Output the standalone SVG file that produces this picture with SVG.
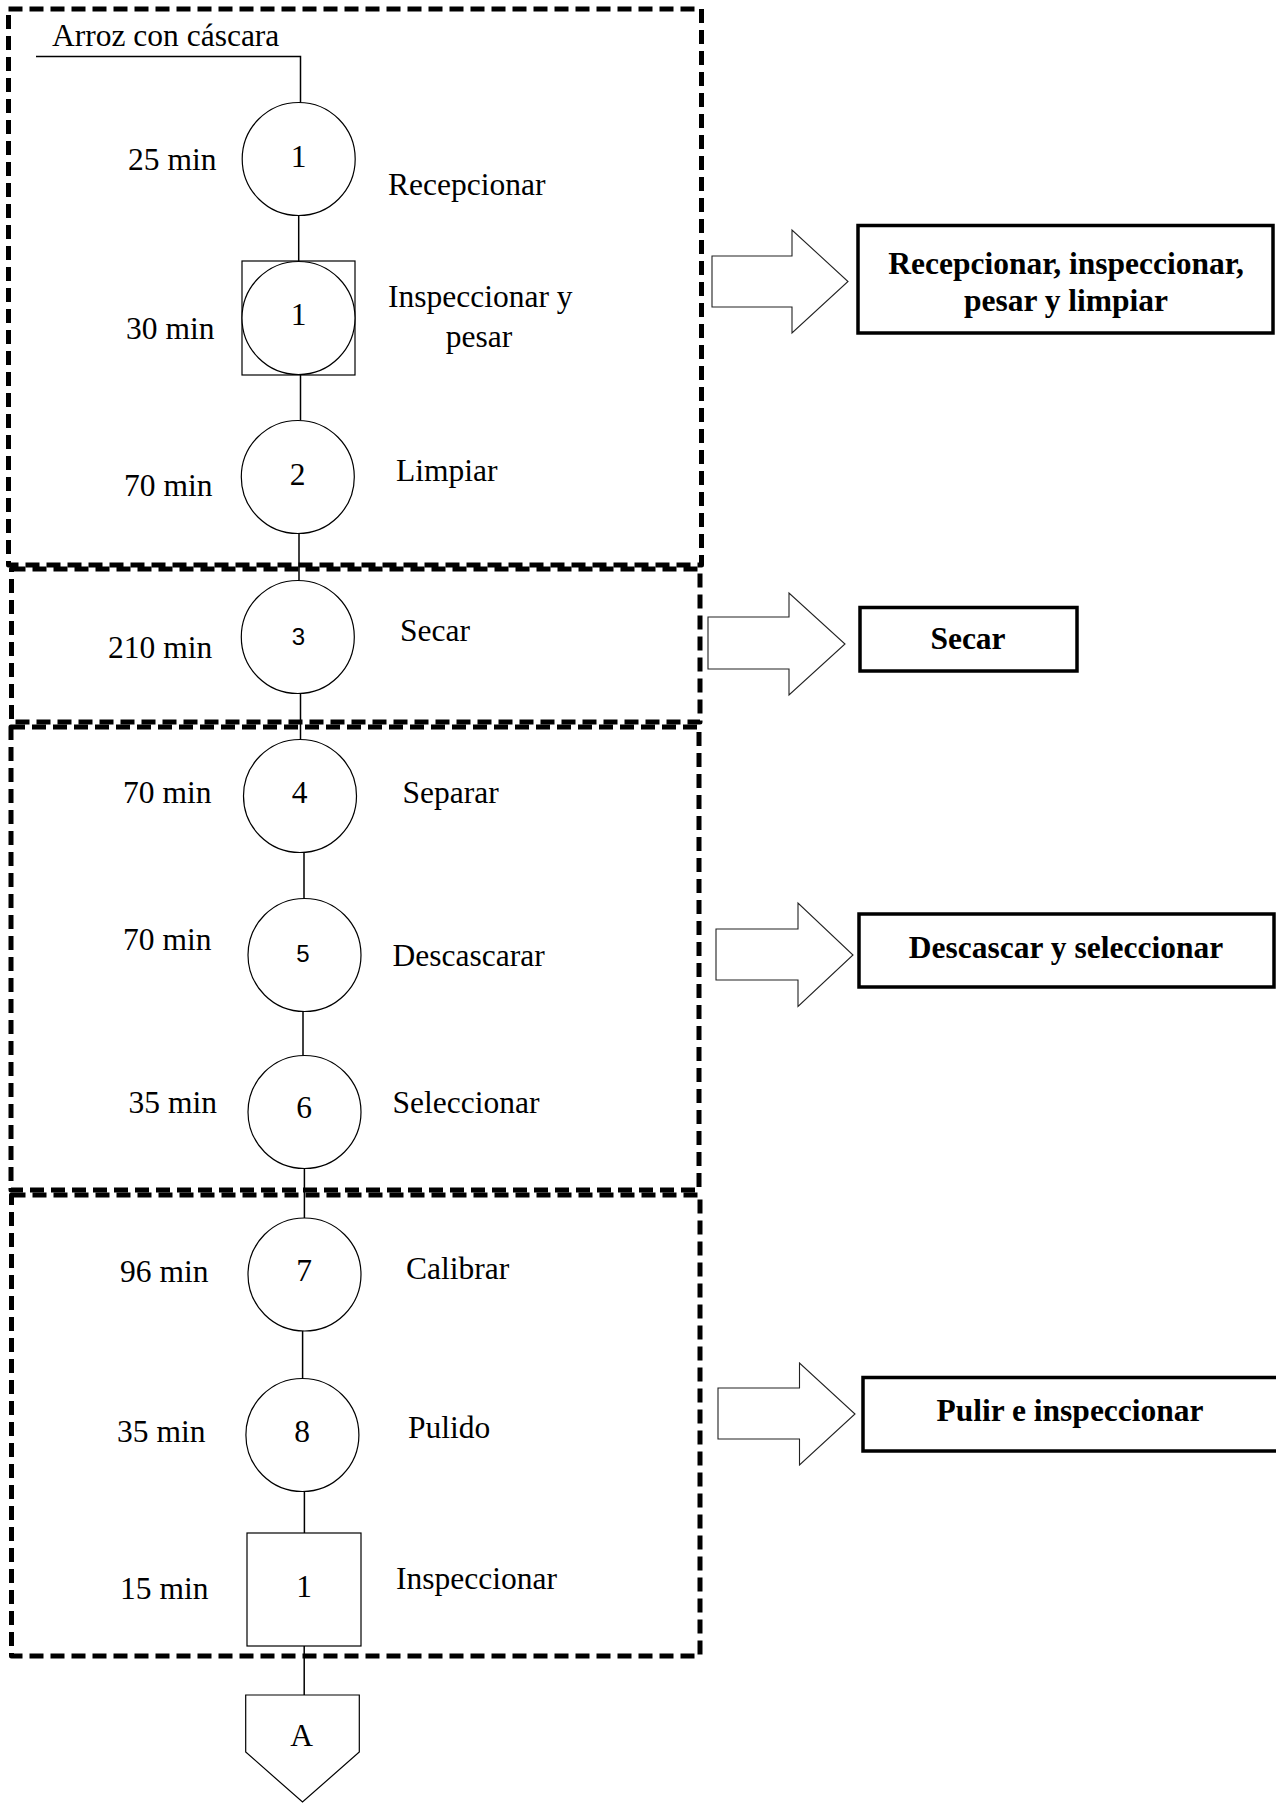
<svg xmlns="http://www.w3.org/2000/svg" width="1276" height="1803" viewBox="0 0 1276 1803">
  <style>
    .bg { fill: #ffffff; }
    .stage { fill: none; stroke: #000; stroke-width: 5; stroke-dasharray: 14 7; stroke-linejoin: round; }
    .sym { fill: #fff; stroke: #000; stroke-width: 1.2; }
    .flow { fill: none; stroke: #000; stroke-width: 1.5; }
    .blk { fill: #fff; stroke: #222; stroke-width: 1.1; }
    .title { fill: #fff; stroke: #000; stroke-width: 3.5; }
    .t { font-family: "Liberation Serif", "Times New Roman", serif; font-size: 31.5px; fill: #000; }
    .n { font-family: "Liberation Serif", "Times New Roman", serif; font-size: 31.5px; fill: #000; text-anchor: middle; }
    .ns { font-family: "Liberation Sans", Arial, sans-serif; font-size: 24px; fill: #000; text-anchor: middle; }
    .b { font-family: "Liberation Serif", "Times New Roman", serif; font-size: 31.5px; font-weight: bold; fill: #000; text-anchor: middle; }
  </style>

  <rect class="bg" x="0" y="0" width="1276" height="1803"/>

  <!-- stage frames -->
  <g id="stages">
    <rect class="stage" x="8.5" y="9" width="693" height="556"/>
    <rect class="stage" x="11.5" y="569" width="688.5" height="153"/>
    <rect class="stage" x="11" y="727" width="688" height="463"/>
    <rect class="stage" x="11.5" y="1195" width="688.5" height="461"/>
  </g>

  <!-- connectors -->
  <g id="connectors">
    <polyline class="flow" points="36,56.5 300.5,56.5 300.5,102.5"/>
    <line class="flow" x1="298.7" y1="215.5" x2="298.7" y2="261"/>
    <line class="flow" x1="300.5" y1="375" x2="300.5" y2="420.5"/>
    <line class="flow" x1="299" y1="533.5" x2="299" y2="580.5"/>
    <line class="flow" x1="300.5" y1="693.5" x2="300.5" y2="739.5"/>
    <line class="flow" x1="304" y1="852.5" x2="304" y2="898.5"/>
    <line class="flow" x1="303" y1="1011.5" x2="303" y2="1055.5"/>
    <line class="flow" x1="304.4" y1="1168.5" x2="304.4" y2="1218"/>
    <line class="flow" x1="302.6" y1="1331" x2="302.6" y2="1378.5"/>
    <line class="flow" x1="304.4" y1="1491.5" x2="304.4" y2="1533"/>
    <line class="flow" x1="304.2" y1="1646" x2="304.2" y2="1695"/>
  </g>

  <!-- process symbols -->
  <g id="op1"><circle class="sym" cx="298.7" cy="159" r="56.5"/><text class="n" x="298.5" y="167">1</text></g>
  <g id="insp-op1">
    <rect class="sym" x="242" y="261" width="113" height="114"/>
    <circle class="sym" cx="298.5" cy="318" r="56.5"/>
    <text class="n" x="298.5" y="325">1</text>
  </g>
  <g id="op2"><circle class="sym" cx="297.8" cy="477" r="56.5"/><text class="n" x="297.5" y="485">2</text></g>
  <g id="op3"><circle class="sym" cx="297.8" cy="637" r="56.5"/><text class="ns" x="298.5" y="645">3</text></g>
  <g id="op4"><circle class="sym" cx="300" cy="796" r="56.5"/><text class="n" x="299.5" y="803">4</text></g>
  <g id="op5"><circle class="sym" cx="304.5" cy="955" r="56.5"/><text class="ns" x="303" y="962">5</text></g>
  <g id="op6"><circle class="sym" cx="304.5" cy="1112" r="56.5"/><text class="n" x="304" y="1118">6</text></g>
  <g id="op7"><circle class="sym" cx="304.5" cy="1274.5" r="56.5"/><text class="n" x="304" y="1281">7</text></g>
  <g id="op8"><circle class="sym" cx="302.4" cy="1435" r="56.5"/><text class="n" x="302" y="1442">8</text></g>
  <g id="insp1"><rect class="sym" x="247" y="1533" width="114" height="113"/><text class="n" x="304" y="1597">1</text></g>
  <g id="connector-A">
    <polygon class="sym" points="245.7,1695 359.3,1695 359.3,1752 302.5,1802 245.7,1752"/>
    <text class="n" x="301.7" y="1746">A</text>
  </g>

  <!-- input and times -->
  <g id="labels">
    <text class="t" x="52" y="46">Arroz con cáscara</text>
    <text class="t" x="128" y="170">25 min</text>
    <text class="t" x="126" y="339">30 min</text>
    <text class="t" x="124" y="496">70 min</text>
    <text class="t" x="108" y="658">210 min</text>
    <text class="t" x="123" y="803">70 min</text>
    <text class="t" x="123" y="950">70 min</text>
    <text class="t" x="128.5" y="1113">35 min</text>
    <text class="t" x="120" y="1282">96 min</text>
    <text class="t" x="117" y="1442">35 min</text>
    <text class="t" x="120" y="1599">15 min</text>

    <text class="t" x="388" y="195">Recepcionar</text>
    <text class="t" x="388" y="307">Inspeccionar y</text>
    <text class="t" x="479" y="347" text-anchor="middle">pesar</text>
    <text class="t" x="396" y="481">Limpiar</text>
    <text class="t" x="400" y="641">Secar</text>
    <text class="t" x="402.5" y="803">Separar</text>
    <text class="t" x="392.5" y="966">Descascarar</text>
    <text class="t" x="392.5" y="1113">Seleccionar</text>
    <text class="t" x="406" y="1278.5">Calibrar</text>
    <text class="t" x="408" y="1438">Pulido</text>
    <text class="t" x="396" y="1589">Inspeccionar</text>
  </g>

  <!-- stage summaries -->
  <g id="stage1">
    <polygon class="blk" points="712,256 792,256 792,230 848,281.5 792,333 792,307 712,307"/>
    <rect class="title" x="858" y="225.5" width="415" height="107.5"/>
    <text class="b" x="1066" y="274">Recepcionar, inspeccionar,</text>
    <text class="b" x="1066" y="311">pesar y limpiar</text>
  </g>
  <g id="stage2">
    <polygon class="blk" points="708,617 789,617 789,593 845,644 789,695 789,669 708,669"/>
    <rect class="title" x="860" y="607.5" width="217" height="63.5"/>
    <text class="b" x="968" y="649">Secar</text>
  </g>
  <g id="stage3">
    <polygon class="blk" points="716,929 798,929 798,903 853,955 798,1006.5 798,980 716,980"/>
    <rect class="title" x="859" y="914" width="415" height="73"/>
    <text class="b" x="1066" y="958">Descascar y seleccionar</text>
  </g>
  <g id="stage4">
    <polygon class="blk" points="718,1388 799.5,1388 799.5,1363 855,1414 799.5,1465 799.5,1439 718,1439"/>
    <rect class="title" x="863" y="1377.5" width="420" height="73.5"/>
    <text class="b" x="1070" y="1421">Pulir e inspeccionar</text>
  </g>
</svg>
